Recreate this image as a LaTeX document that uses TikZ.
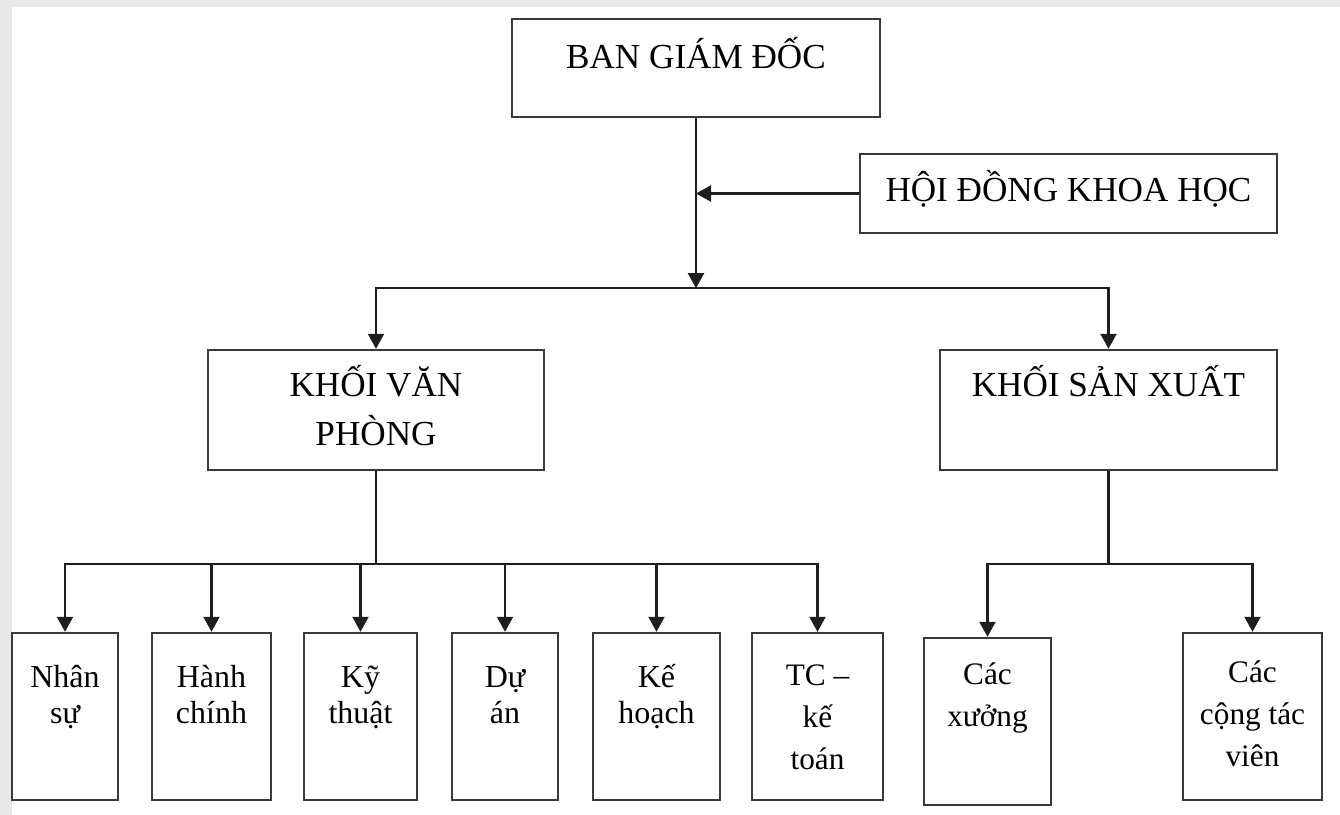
\documentclass[tikz,border=0pt]{standalone}
\usepackage{fontspec}
\setmainfont{Liberation Serif}
\usetikzlibrary{arrows.meta,positioning}
\definecolor{pageC}{HTML}{E8E8E8}
\definecolor{edgeC}{HTML}{3A3A3A}
\definecolor{lineC}{HTML}{1E1E1E}
\tikzset{
  unit/.style={draw=edgeC, line width=1.4pt, fill=white, inner sep=0pt},
  txt/.style={align=center, inner sep=0pt, anchor=base, text=black},
  big/.style={txt, font=\fontsize{20}{28}\selectfont},
  small/.style={txt, font=\fontsize{18.2}{20.5}\selectfont},
  wide/.style={txt, font=\fontsize{17.8}{24}\selectfont},
  arr/.style={-{Triangle[length=0.3cm,width=0.32cm]}, draw=lineC, line width=1.2pt},
}

\begin{document}
\begin{tikzpicture}[x=0.02cm, y=-0.02cm]
\useasboundingbox (0,0) rectangle (1340,815);
\fill[pageC] (0,0) rectangle (1340,815);
\fill[white] (12,7) rectangle (1340,815);
% boxes
\node[unit, minimum width=7.36cm, minimum height=1.96cm] (bgd) at (696,68) {};
\node[unit, minimum width=8.34cm, minimum height=1.58cm] (hdkh) at (1068.5,193.5) {};
\node[unit, minimum width=6.72cm, minimum height=2.4cm] (kvp) at (376,410) {};
\node[unit, minimum width=6.74cm, minimum height=2.4cm] (ksx) at (1108.5,410) {};
\node[unit, minimum width=2.12cm, minimum height=3.34cm] (ns) at (65,716.5) {};
\node[unit, minimum width=2.38cm, minimum height=3.34cm] (hc) at (211.5,716.5) {};
\node[unit, minimum width=2.26cm, minimum height=3.34cm] (kt) at (360.5,716.5) {};
\node[unit, minimum width=2.12cm, minimum height=3.34cm] (da) at (505,716.5) {};
\node[unit, minimum width=2.54cm, minimum height=3.34cm] (kh) at (656.5,716.5) {};
\node[unit, minimum width=2.62cm, minimum height=3.34cm] (tc) at (817.5,716.5) {};
\node[unit, minimum width=2.54cm, minimum height=3.34cm] (cx) at (987.5,721.5) {};
\node[unit, minimum width=2.78cm, minimum height=3.34cm] (ctv) at (1252.5,716.5) {};
% texts (base = last line)
\node[big] (bgd-t) at ([yshift=-1.02cm]bgd.north) {BAN GIÁM ĐỐC};
\node[big] (hdkh-t) at ([yshift=-0.98cm]hdkh.north) {HỘI ĐỒNG KHOA HỌC};
\node[big] (kvp-t) at ([yshift=-1.94cm]kvp.north) {KHỐI VĂN\\PHÒNG};
\node[big] (ksx-t) at ([yshift=-0.96cm]ksx.north) {KHỐI SẢN XUẤT};
\node[small] (ns-t) at ([yshift=-1.84cm]ns.north) {Nhân\\sự};
\node[small] (hc-t) at ([yshift=-1.84cm]hc.north) {Hành\\chính};
\node[small] (kt-t) at ([yshift=-1.84cm]kt.north) {Kỹ\\thuật};
\node[small] (da-t) at ([yshift=-1.84cm]da.north) {Dự\\án};
\node[small] (kh-t) at ([yshift=-1.84cm]kh.north) {Kế\\hoạch};
\node[wide] (tc-t) at ([yshift=-2.76cm]tc.north) {TC –\\kế\\toán};
\node[wide] (cx-t) at ([yshift=-1.8cm]cx.north) {Các\\xưởng};
\node[wide] (ctv-t) at ([yshift=-2.7cm]ctv.north) {Các\\cộng tác\\viên};
% connectors
\coordinate (hub) at ([yshift=-3.4cm]bgd.south);
\coordinate (lbus) at ([yshift=-1.86cm]kvp.south);
\coordinate (rbus) at ([yshift=-1.86cm]ksx.south);
\draw[arr] (bgd.south) -- (hub);
\draw[arr] (hdkh.west) -- (hdkh.west -| hub);
\draw[arr] (hub) -| (kvp.north);
\draw[arr] (hub) -| (ksx.north);
\foreach \b in {ns,hc,kt,da,kh,tc}
  \draw[arr] (kvp.south) -- (lbus) -| (\b.north);
\foreach \b in {cx,ctv}
  \draw[arr] (ksx.south) -- (rbus) -| (\b.north);
\end{tikzpicture}
\end{document}
